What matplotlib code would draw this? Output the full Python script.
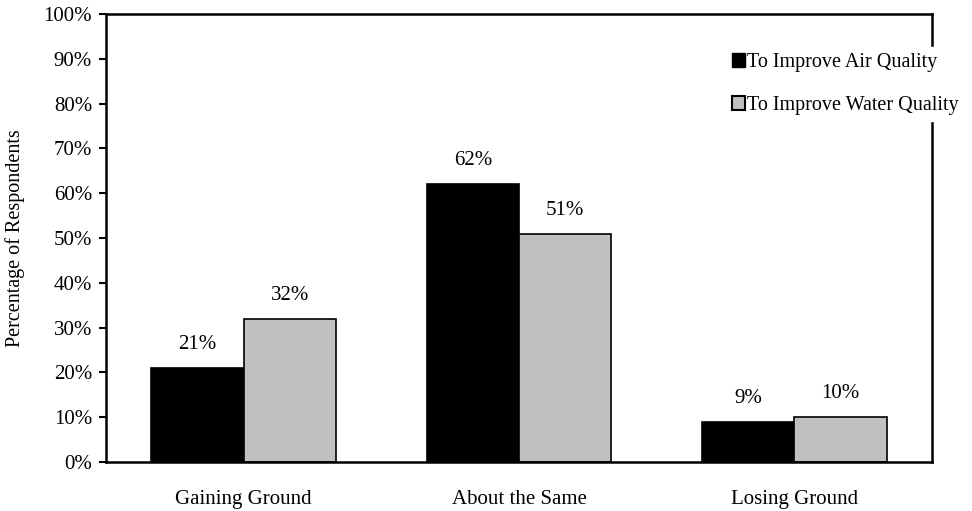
import matplotlib
matplotlib.use("Agg")
import matplotlib.pyplot as plt
import numpy as np
from matplotlib.patches import Patch

categories = ["Gaining Ground", "About the Same", "Losing Ground"]
air = [21, 62, 9]
water = [32, 51, 10]
series_names = ["To Improve Air Quality", "To Improve Water Quality"]
yticks = list(range(0, 101, 10))

plt.rcParams["font.family"] = ["Liberation Serif", "DejaVu Serif"]
FS = 15

fig = plt.figure(figsize=(9.72, 5.11), dpi=100)
ax = fig.add_axes([106 / 972, 1 - 462 / 511, (932 - 106) / 972, (462 - 14) / 511])

x = np.arange(len(categories))
w = 0.335
bars_a = ax.bar(x - w / 2, air, w, color="black", edgecolor="black", lw=1.2)
bars_w = ax.bar(x + w / 2, water, w, color="#c0c0c0", edgecolor="black", lw=1.2)

for bars, vals in ((bars_a, air), (bars_w, water)):
    for b, v in zip(bars, vals):
        ax.annotate(f"{v}%", (b.get_x() + b.get_width() / 2, v), xytext=(0, 10),
                    textcoords="offset points", ha="center", va="bottom", fontsize=FS)

ax.set_xlim(-0.5, len(categories) - 0.5)
ax.set_ylim(0, 100)
ax.set_yticks(yticks)
ax.set_yticklabels([f"{t}%" for t in yticks], fontsize=FS)
ax.set_xticks(x)
ax.set_xticklabels(categories, fontsize=FS)
ax.tick_params(axis="x", length=0, pad=20)
ax.tick_params(axis="y", length=5, width=1.5, direction="out", pad=5)
for s in ax.spines.values():
    s.set_linewidth(1.8)
ax.set_ylabel("Percentage of Respondents", fontsize=14.5, labelpad=13)

handles = [Patch(facecolor="black", edgecolor="black"),
           Patch(facecolor="#c0c0c0", edgecolor="black", lw=1.5)]
leg = fig.legend(handles, series_names, loc="upper left",
                 bbox_to_anchor=(716 / 972, 1 - 37 / 511), fontsize=14.5,
                 frameon=True, facecolor="white", edgecolor="white", framealpha=1,
                 handlelength=0.65, handleheight=0.65, handletextpad=0.1,
                 labelspacing=1.2, borderpad=0.3, fancybox=False)

fig.savefig("out.png", dpi=100, facecolor="white")
